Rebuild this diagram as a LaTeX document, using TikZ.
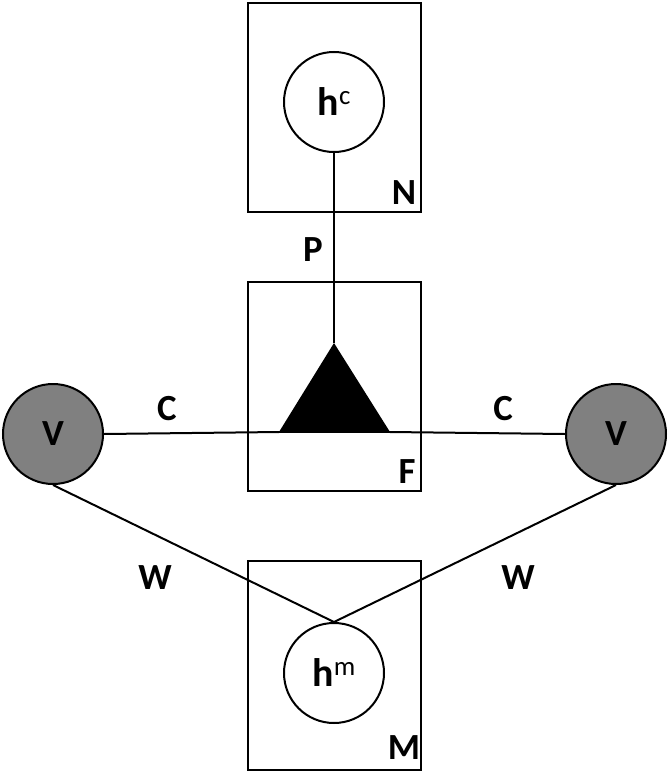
\documentclass[tikz,border=0pt]{standalone}
\usepackage{fontspec}
\setmainfont{Carlito}
\definecolor{obsgray}{RGB}{128,128,128}
\begin{document}
\begin{tikzpicture}[x=1bp,y=-1bp,
  plate/.style={draw, line width=2bp, minimum width=173bp, minimum height=209bp, inner sep=0pt},
  var/.style={circle, draw, line width=2bp, minimum size=100bp, inner sep=0pt, font=\fontsize{40}{40}\selectfont\bfseries},
  obs/.style={var, fill=obsgray, font=\fontsize{37}{37}\selectfont\bfseries},
  lbl/.style={font=\fontsize{37}{37}\selectfont\bfseries, inner sep=0pt},
  edge/.style={line width=2bp}]
\useasboundingbox (0,0) rectangle (669,774);
% plates
\node[plate] (boxN) at (334.5,107.5) {};
\node[plate] (boxF) at (334.5,386.5) {};
\node[plate] (boxM) at (334.5,665) {};
% variables
\node[var] (hc) at (334,102) {h\raisebox{0.6ex}{\fontsize{27}{27}\selectfont\mdseries c}};
\node[var] (hm) at (334,673) {h\raisebox{0.6ex}{\fontsize{27}{27}\selectfont\mdseries m}};
\node[obs] (vl) at (53,434) {V};
\node[obs] (vr) at (616,434) {V};
% factor triangle
\coordinate (apex) at (334,343);
\coordinate (bl) at (279,432);
\coordinate (br) at (390,432);
\fill (apex) -- (bl) -- (br) -- cycle;
% connectors
\draw[edge] (hc.south) -- (apex);
\draw[edge] (vl.east) -- (bl);
\draw[edge] (bl) -- (br);
\draw[edge] (br) -- (vr.west);
\draw[edge] (vl.south) -- (hm.north);
\draw[edge] (vr.south) -- (hm.north);
% labels
\node[lbl] (labN) at (404,193) {N};
\node[lbl] (labP) at (313,250) {P};
\node[lbl] (labC1) at (167,409) {C};
\node[lbl] (labC2) at (503,409) {C};
\node[lbl] (labF) at (407,472) {F};
\node[lbl] (labW1) at (155,578) {W};
\node[lbl] (labW2) at (518,578) {W};
\node[lbl] (labM) at (404,748) {M};
\end{tikzpicture}
\end{document}
